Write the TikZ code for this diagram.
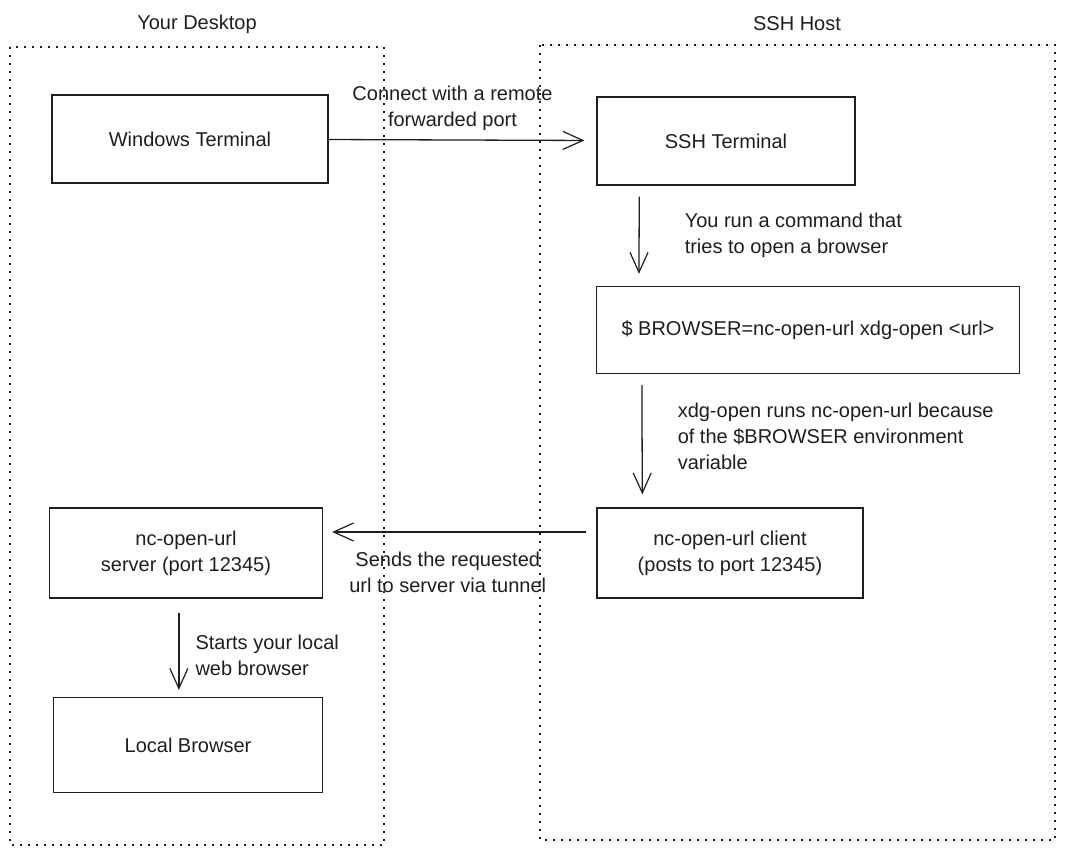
\documentclass[tikz,border=0pt]{standalone}
\usepackage{fontspec}
\setmainfont{Liberation Sans}
\usetikzlibrary{arrows.meta,positioning}

\definecolor{ink}{HTML}{1E1E1E}
\tikzset{
  box/.style={draw=ink,line width=1.3pt,rectangle,inner sep=0pt,
    font=\fontsize{20}{26}\selectfont,text=ink,align=center},
  area/.style={draw=ink,line width=1.6pt,dash pattern=on 1.6pt off 6.4pt},
  note/.style={inner sep=0pt,font=\fontsize{20}{26}\selectfont,text=ink},
  flow/.style={draw=ink,line width=1.3pt,
    -{Straight Barb[length=20pt,width=18pt,line width=1.2pt]}},
}

\begin{document}
\begin{tikzpicture}[x=1pt,y=-1pt]
        \useasboundingbox (0,0) rectangle (1065,856);

        % the two machines
        \draw[area] (10,47)  rectangle (384,845);
        \draw[area] (540,45) rectangle (1055,840);
        \node[note] (desk) at (197,24) {Your Desktop};
        \node[note] (host) at (797,24) {SSH Host};

        \begin{scope}[every node/.style={box}]
          \node[minimum width=276,minimum height=88] (win)    at (190,139) {Windows Terminal};
          \node[minimum width=258,minimum height=88] (ssh)    at (726,141) {SSH Terminal};
          \node[minimum width=423,minimum height=87] (cmd)    at (808,330) {\$ BROWSER=nc-open-url xdg-open <url>};
          \node[minimum width=266,minimum height=90] (client) at (730,553) {nc-open-url client\\(posts to port 12345)};
          \node[minimum width=273,minimum height=90] (server) at (186,553) {nc-open-url\\server (port 12345)};
          \node[minimum width=269,minimum height=95] (local)  at (188,745) {Local Browser};
        \end{scope}

        \begin{scope}[every edge/.style={flow}]
          \path (win) edge[shorten >=12pt] node[note,above=9pt,xshift=-10pt,align=center]
                {Connect with a remote\\forwarded port} (ssh);
          \path ([xshift=43pt]ssh.south west) edge[shorten <=11pt,shorten >=12pt]
                node[note,right=45pt,align=left] {You run a command that\\tries to open a browser}
                ([xshift=43pt]cmd.north west);
          \path ([xshift=46pt]cmd.south west) edge[shorten <=11pt,shorten >=13pt]
                node[note,right=35pt,align=left,yshift=4pt]
                {xdg-open runs nc-open-url because\\of the \$BROWSER environment\\variable}
                ([xshift=46pt]client.north west);
          \path ([yshift=21pt]client.west) edge[shorten <=10pt,shorten >=9pt]
                node[note,below=19pt,xshift=-12pt,align=center]
                {Sends the requested\\url to server via tunnel}
                ([yshift=21pt]server.east);
          \path ([xshift=130pt]server.south west) edge[shorten <=14pt,shorten >=7pt]
                node[note,right=16pt,align=left,yshift=-8pt] {Starts your local\\web browser}
                ([xshift=126pt]local.north west);
        \end{scope}

      \end{tikzpicture}
\end{document}
